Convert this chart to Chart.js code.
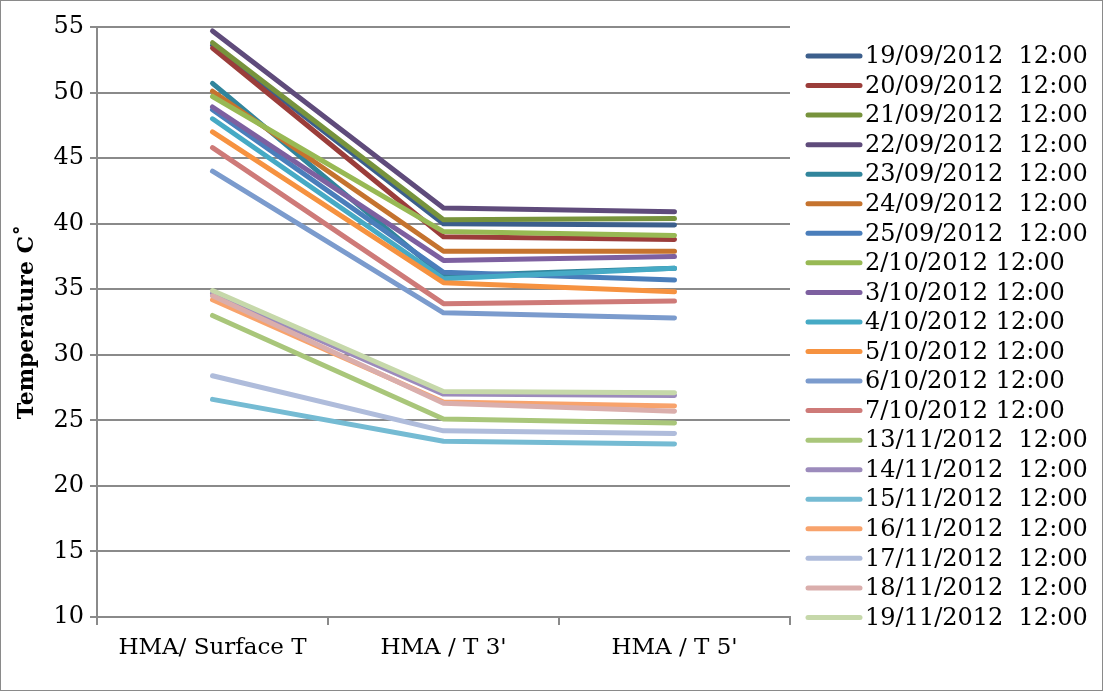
<!DOCTYPE html>
<html>
<head>
<meta charset="utf-8">
<script src="https://cdn.jsdelivr.net/npm/chart.js@4"></script>
<style>
  body { margin: 0; background: #fff; }
  #wrap { position: relative; width: 1103px; height: 691px; }
  #frame { position: absolute; left: 0; top: 0; width: 1103px; height: 691px; box-sizing: border-box; border: 1px solid #8a8a8a; pointer-events: none; }
</style>
</head>
<body>
<div id="wrap">
  <canvas id="myChart" width="1103" height="691"></canvas>
  <div id="frame"></div>
</div>
<script>
// categories on the x axis
const categories = ['HMA/ Surface T', "HMA / T 3'", "HMA / T 5'"]

// one entry per series (legend)
const seriesNames = [
  '19/09/2012  12:00', '20/09/2012  12:00', '21/09/2012  12:00', '22/09/2012  12:00',
  '23/09/2012  12:00', '24/09/2012  12:00', '25/09/2012  12:00', '2/10/2012 12:00',
  '3/10/2012 12:00', '4/10/2012 12:00', '5/10/2012 12:00', '6/10/2012 12:00',
  '7/10/2012 12:00', '13/11/2012  12:00', '14/11/2012  12:00', '15/11/2012  12:00',
  '16/11/2012  12:00', '17/11/2012  12:00', '18/11/2012  12:00', '19/11/2012  12:00'
]

// temperatures, same order as seriesNames
const surfaceT = [53.6, 53.4, 53.8, 54.7, 50.7, 50.1, 48.7, 49.7, 48.9, 48.0, 47.0, 44.0, 45.8,
                  33.0, 34.7, 26.6, 34.2, 28.4, 34.5, 34.9]
const t3 = [40.0, 39.0, 40.3, 41.2, 36.0, 37.9, 36.3, 39.4, 37.2, 35.8, 35.5, 33.2, 33.9,
            25.1, 27.0, 23.4, 26.4, 24.2, 26.3, 27.2]
const t5 = [39.9, 38.8, 40.4, 40.9, 36.6, 37.9, 35.7, 39.1, 37.5, 36.6, 34.8, 32.8, 34.1,
            24.8, 26.9, 23.2, 26.1, 24.0, 25.7, 27.1]

const yTicks = { min: 10, max: 55, step: 5 }

const colors = [
  '#3c5f8c', '#9b3d3a', '#77933c', '#5f4b7b', '#31859c', '#c5732e', '#4a7ebb', '#98b954',
  '#7d60a0', '#46aac5', '#f69240', '#7b9bcd', '#ce7a78', '#a9c67a', '#9c8bbc', '#75bbd3',
  '#f8a36c', '#afbcdb', '#daaeac', '#c6d8aa'
]

let datasets = []
for (let i = 0; i < seriesNames.length; i++) {
  datasets.push({
    label: seriesNames[i],
    data: [surfaceT[i], t3[i], t5[i]],
    borderColor: colors[i],
    backgroundColor: colors[i],
    borderWidth: 5,
    borderCapStyle: 'round',
    borderJoinStyle: 'round',
    pointRadius: 0,
    tension: 0,
    order: seriesNames.length - i
  })
}

const serif = 'DejaVu Serif'

// legend drawn by hand so spacing matches
const sideLegend = {
  id: 'sideLegend',
  afterDraw(chart) {
    const ctx = chart.ctx
    ctx.save()
    ctx.font = '24px "' + serif + '"'
    ctx.textBaseline = 'middle'
    ctx.fillStyle = '#000'
    chart.data.datasets.forEach((ds, i) => {
      let y = 56 + i * 29.55
      ctx.strokeStyle = ds.borderColor
      ctx.lineWidth = 5
      ctx.lineCap = 'round'
      ctx.beginPath()
      ctx.moveTo(808, y)
      ctx.lineTo(860, y)
      ctx.stroke()
      ctx.fillText(ds.label, 865, y + 1)
    })
    ctx.restore()
  }
}

const ctx = document.getElementById('myChart')

let chart = new Chart(ctx, {
  type: 'line',
  data: { labels: categories, datasets: datasets },
  plugins: [sideLegend],
  options: {
    responsive: false,
    animation: false,
    layout: { padding: { top: 27, right: 313, left: 0, bottom: 0 } },
    plugins: { legend: { display: false }, tooltip: { enabled: false } },
    scales: {
      x: {
        offset: true,
        grid: { offset: true, drawOnChartArea: false, drawTicks: true, tickLength: 8, color: '#8a8a8a', lineWidth: 2 },
        border: { color: '#8a8a8a', width: 2 },
        ticks: { color: '#000', font: { family: serif, size: 23 }, padding: 9, maxRotation: 0 },
        afterFit: function(scale) { scale.height = 691 - 617 }
      },
      y: {
        min: yTicks.min,
        max: yTicks.max,
        ticks: { stepSize: yTicks.step, color: '#000', font: { family: serif, size: 24 }, padding: 6 },
        grid: { color: '#8a8a8a', lineWidth: 2, tickLength: 7 },
        border: { color: '#8a8a8a', width: 2 },
        title: { display: true, text: 'Temperature C˚', color: '#000', font: { family: serif, size: 22, weight: 'bold' }, padding: { top: 14, bottom: 0 } },
        afterFit: function(scale) { scale.width = 97 }
      }
    }
  }
})
</script>
</body>
</html>
